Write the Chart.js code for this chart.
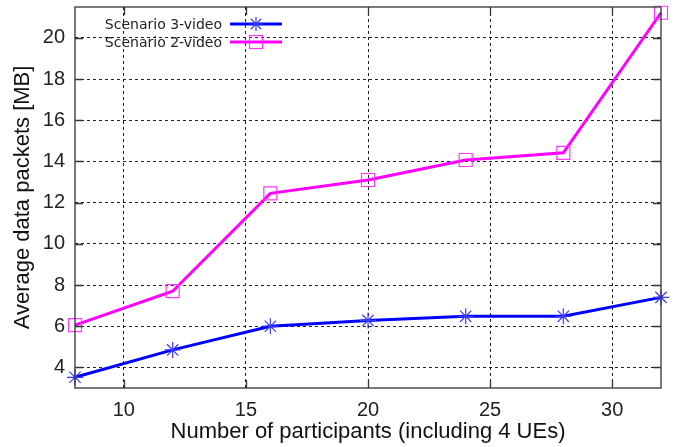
<!DOCTYPE html>
<html><head><meta charset="utf-8">
<script src="https://cdn.jsdelivr.net/npm/chart.js@4/dist/chart.umd.min.js"></script>
<style>html,body{margin:0;padding:0;background:#fff}#wrap{width:676px;height:447px}</style>
</head><body><div id="wrap"><canvas id="c" width="676" height="447"></canvas></div>
<script>
const participants = [8, 12, 16, 20, 24, 28, 32];
const scenario3Video = [3.52, 4.85, 6.0, 6.28, 6.48, 6.48, 7.4];
const scenario2Video = [6.05, 7.7, 12.45, 13.1, 14.07, 14.42, 21.22];
const xTicks = [10, 15, 20, 25, 30];
const yTicks = [4, 6, 8, 10, 12, 14, 16, 18, 20];
const seriesNames = ['Scenario 3-video', 'Scenario 2-video'];
const xTitle = 'Number of participants (including 4 UEs)';
const yTitle = 'Average data packets [MB]';

const BLUE = '#0000ff', MAG = '#ff00ff';
const FONT = '"Liberation Sans", Arial, sans-serif';

function pts(xs, ys) { return xs.map((x, i) => ({x: x, y: ys[i]})); }

function drawStar(ctx, x, y, r, color) {
  ctx.save(); ctx.strokeStyle = color; ctx.lineWidth = 1.2; ctx.beginPath();
  ctx.moveTo(x - r, y); ctx.lineTo(x + r, y);
  ctx.moveTo(x, y - r); ctx.lineTo(x, y + r);
  const d = r * 0.75;
  ctx.moveTo(x - d, y - d); ctx.lineTo(x + d, y + d);
  ctx.moveTo(x - d, y + d); ctx.lineTo(x + d, y - d);
  ctx.stroke(); ctx.restore();
}
function drawSquare(ctx, x, y, h, color) {
  ctx.save(); ctx.strokeStyle = color; ctx.lineWidth = 1.2;
  ctx.strokeRect(x - h, y - h, 2 * h, 2 * h); ctx.restore();
}

const framePlugin = {
  id: 'frame',
  afterDraw(chart) {
    const ctx = chart.ctx, a = chart.chartArea;
    const xs = chart.scales.x, ys = chart.scales.y;
    ctx.save();
    ctx.strokeStyle = '#333'; ctx.lineWidth = 1.3; ctx.setLineDash([]);
    ctx.strokeRect(a.left, a.top, a.right - a.left, a.bottom - a.top);
    ctx.beginPath();
    const L = 8;
    xTicks.forEach(v => { const p = Math.round(xs.getPixelForValue(v)) + 0.5;
      ctx.moveTo(p, a.bottom); ctx.lineTo(p, a.bottom - L);
      ctx.moveTo(p, a.top); ctx.lineTo(p, a.top + L); });
    yTicks.forEach(v => { const p = Math.round(ys.getPixelForValue(v)) + 0.5;
      ctx.moveTo(a.left, p); ctx.lineTo(a.left + L, p);
      ctx.moveTo(a.right, p); ctx.lineTo(a.right - L, p); });
    ctx.stroke();
    ctx.font = '14px "DejaVu Sans", sans-serif';
    ctx.fillStyle = '#222'; ctx.textAlign = 'right'; ctx.textBaseline = 'middle';
    const rows = [{y: 24, c: BLUE, m: 'star'}, {y: 42, c: MAG, m: 'sq'}];
    rows.forEach((r, i) => {
      ctx.fillText(seriesNames[i], 222, r.y + 1);
      ctx.strokeStyle = r.c; ctx.lineWidth = 3;
      ctx.beginPath(); ctx.moveTo(230, r.y); ctx.lineTo(282, r.y); ctx.stroke();
      if (r.m === 'star') drawStar(ctx, 256, r.y, 7, '#3b3bff');
      else drawSquare(ctx, 256, r.y, 6.5, '#ff3bff');
    });
    ctx.restore();
  }
};

new Chart(document.getElementById('c'), {
  type: 'line',
  data: {
    datasets: [
      { label: seriesNames[0], data: pts(participants, scenario3Video),
        borderColor: BLUE, borderWidth: 3, pointStyle: 'star', pointRadius: 8,
        pointBorderColor: '#3b3bff', pointBorderWidth: 1.2, pointBackgroundColor: 'transparent',
        tension: 0, clip: false },
      { label: seriesNames[1], data: pts(participants, scenario2Video),
        borderColor: MAG, borderWidth: 3, pointStyle: 'rect', pointRadius: 9.2,
        pointBorderColor: '#ff3bff', pointBorderWidth: 1.2, pointBackgroundColor: 'transparent',
        tension: 0, clip: false }
    ]
  },
  options: {
    responsive: false, animation: false, devicePixelRatio: 1,
    layout: { autoPadding: false, padding: { top: 7, right: 15, left: 0, bottom: 0 } },
    plugins: { legend: { display: false }, tooltip: { enabled: false } },
    scales: {
      x: {
        type: 'linear', min: 8, max: 32,
        afterBuildTicks: s => { s.ticks = xTicks.map(v => ({value: v})); },
        afterFit: s => { s.height = 59; s.paddingLeft = 0; s.paddingRight = 0; },
        grid: { color: '#222', lineWidth: 1, drawTicks: false },
        border: { display: false, dash: [3, 3] },
        ticks: { color: '#222', font: { family: FONT, size: 20 }, padding: 10, maxRotation: 0 },
        title: { display: true, text: xTitle, color: '#111', font: { family: FONT, size: 22 }, padding: { top: 0, bottom: 2 } }
      },
      y: {
        type: 'linear', min: 3, max: 21.5,
        afterBuildTicks: s => { s.ticks = yTicks.map(v => ({value: v})); },
        afterFit: s => { s.width = 75; s.paddingTop = 0; s.paddingBottom = 0; },
        grid: { color: '#222', lineWidth: 1, drawTicks: false },
        border: { display: false, dash: [3, 3] },
        ticks: { color: '#222', font: { family: FONT, size: 20 }, padding: 10 },
        title: { display: true, text: yTitle, color: '#111', font: { family: FONT, size: 22 }, padding: { top: 10, bottom: 0 } }
      }
    }
  },
  plugins: [framePlugin]
});
</script>
</body></html>
